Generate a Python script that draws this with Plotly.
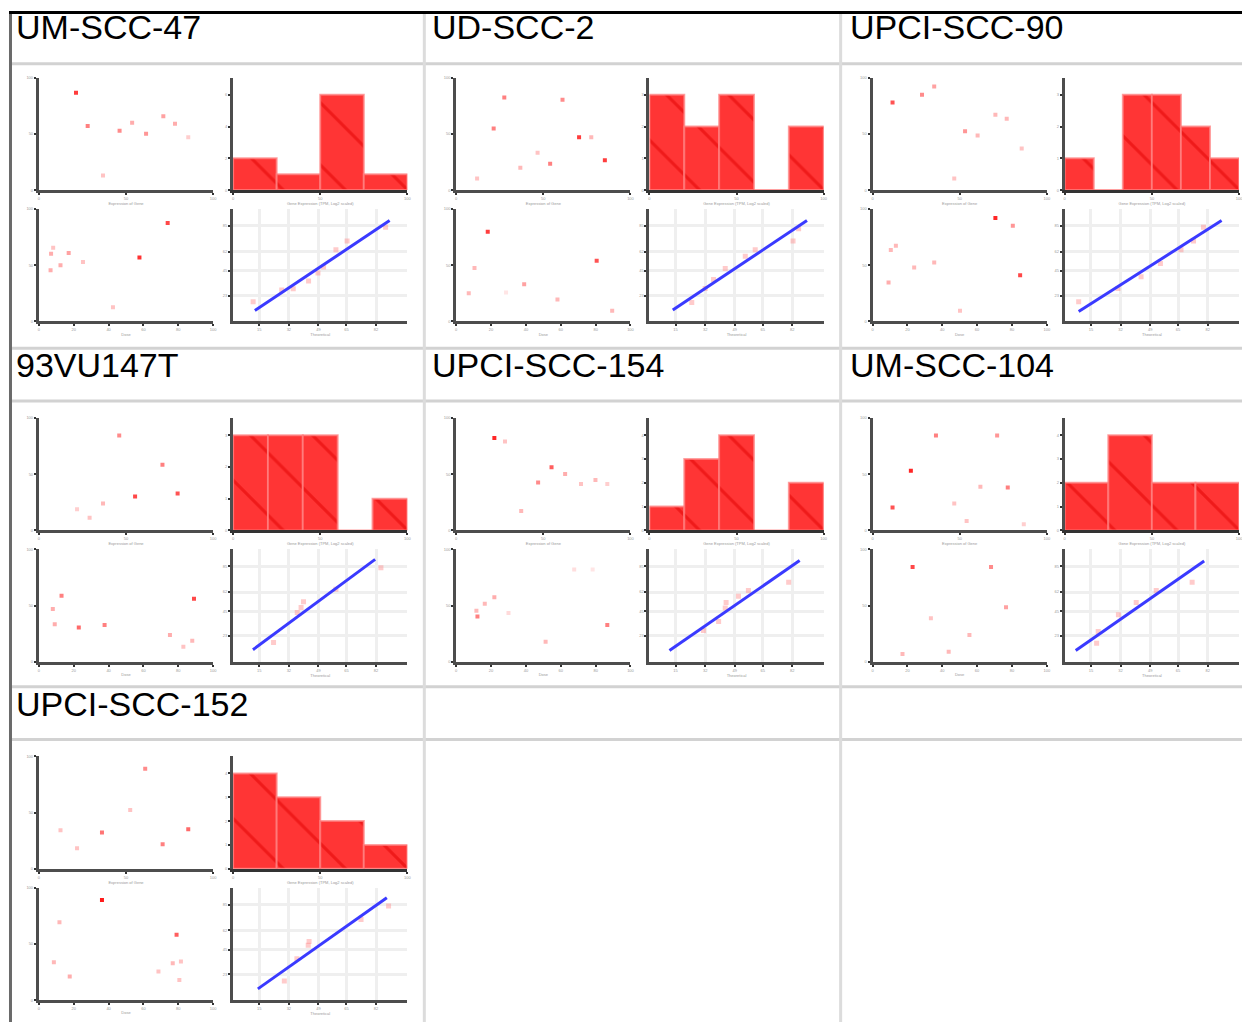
import plotly.graph_objects as go

# ---------------- data ----------------
panel_names = ["UM-SCC-47", "UD-SCC-2", "UPCI-SCC-90", "93VU147T",
               "UPCI-SCC-154", "UM-SCC-104", "UPCI-SCC-152"]

top_x = [[21.3, 28, 36.8, 46.3, 53.5, 61.5, 71.4, 78.1, 85.7],
         [27.6, 61, 21.5, 70.5, 77.5, 46.7, 53.9, 36.8, 85.3, 12],
         [11.5, 28.4, 35.4, 53.1, 60.3, 70.5, 77, 85.6, 46.9],
         [46.1, 70.9, 55.2, 79.6, 36.8, 21.9, 29.1],
         [21.9, 28, 54.7, 62.5, 47, 71.6, 79.9, 86.7, 37.3],
         [36.4, 71.5, 22, 11.5, 61.9, 77.6, 46.9, 54, 86.8],
         [61, 52.4, 12.4, 36.2, 21.9, 71, 85.7]]
top_y = [[86.7, 57.1, 13, 52.8, 60, 50.1, 65.8, 59.1, 47],
         [82.4, 80.3, 54.7, 47.1, 47.1, 33.2, 23.5, 20, 26.5, 10.3],
         [77.9, 84.7, 92.1, 52.4, 48.5, 67.1, 63.5, 37.1, 10.3],
         [84.5, 58.5, 30.1, 32.8, 23.9, 18.8, 11.3],
         [82.1, 79.1, 56.1, 50.1, 42.7, 41.2, 44.8, 41.2, 17.3],
         [84.5, 84.5, 53.1, 20.3, 38.8, 38.2, 23.9, 8.4, 5.4],
         [89, 52.2, 34.3, 32.2, 18.2, 21.8, 35.2]]
top_w = [[.8, .5, .2, .45, .3, .4, .35, .3, .15],
         [.5, .45, .5, .8, .25, .2, .5, .25, .8, .2],
         [.7, .45, .35, .4, .25, .25, .25, .2, .2],
         [.45, .5, .75, .7, .25, .15, .2],
         [.9, .2, .65, .3, .45, .2, .25, .15, .25],
         [.5, .4, .9, .7, .25, .5, .2, .2, .15],
         [.45, .2, .2, .55, .2, .5, .6]]

bot_x = [[7, 8.2, 17.1, 12.4, 6.7, 25.3, 42.5, 57.7, 73.9],
         [18.1, 10.5, 7.2, 39, 58.1, 80.6, 89.5, 28.6],
         [70.5, 80.5, 13.4, 10.5, 23.9, 35.4, 9.2, 84.7, 50.2],
         [13, 8, 9.1, 22.9, 37.7, 75.2, 82.9, 88, 89],
         [21.9, 16.4, 11.6, 12.2, 30, 51.3, 86.7, 67.7, 78.3],
         [23, 68, 33.5, 76.6, 55.6, 43.7, 17.2],
         [36.2, 11.8, 79, 8.6, 17.7, 68.6, 76.8, 81.5, 80.6]]
bot_y = [[60.3, 65.6, 60.9, 50, 45.6, 52.9, 12.6, 56.8, 87.6],
         [79.8, 47.5, 25.2, 33.2, 19.6, 54, 9.5, 25.8],
         [92, 85.2, 67.4, 63.5, 48.1, 52.5, 34.7, 41.2, 9.5],
         [58.8, 46.9, 33.4, 30.4, 32.8, 23.9, 13.4, 18.8, 56.1],
         [57.3, 51.6, 45.4, 40.3, 43.3, 17.9, 32.8, 82.1, 82.1],
         [84.2, 84.2, 38.8, 48.4, 23.9, 9, 6.9],
         [89, 69.3, 58.2, 33.7, 20.9, 25.4, 32.8, 34.3, 17.9]]
bot_w = [[.3, .2, .35, .3, .3, .2, .2, .85, .75],
         [.8, .25, .25, .35, .25, .7, .25, .05],
         [.9, .4, .25, .25, .25, .25, .3, .75, .2],
         [.5, .3, .3, .6, .5, .3, .2, .25, .75],
         [.3, .25, .25, .5, .1, .25, .5, .08, .05],
         [.75, .45, .2, .35, .25, .25, .25],
         [.95, .25, .65, .25, .3, .2, .25, .2, .2]]

hist_counts = [[2, 1, 6, 1],
               [3, 2, 3, 0, 2],
               [1, 0, 3, 3, 2, 1],
               [3, 3, 3, 0, 1],
               [1, 3, 4, 0, 2],
               [2, 4, 2, 2],
               [4, 3, 2, 1]]

qq_x = [[11.5, 27.9, 34.5, 43.3, 48.7, 51.9, 59, 65.4, 87.5],
        [24.3, 32, 36.8, 43.5, 55, 60.7, 82.4, 85.6],
        [8, 30.5, 43.8, 54.9, 66.7, 73.9, 79.6],
        [23.2, 36.8, 39, 40.4, 59, 84.8],
        [31, 39.7, 43.5, 44, 51.1, 56.8, 79.9],
        [18.3, 19.2, 30.8, 41, 52.5, 73.1],
        [29.4, 36.6, 43.1, 43.6, 73.4, 89.2]]
qq_y = [[17.6, 27.9, 29, 35.9, 43.2, 48.5, 63.8, 71.5, 83.8],
        [16.8, 29.4, 37.4, 47.1, 57.9, 63.8, 71.5, 82.4],
        [17.6, 29.4, 39.7, 51.5, 63.8, 71.5, 83.8],
        [17.2, 43.8, 48.2, 53.3, 64.5, 83.7],
        [27.8, 35.8, 47.8, 52.8, 58.2, 63.3, 70.7],
        [16.4, 26.9, 41.8, 52.8, 63.3, 70.7],
        [17, 36.7, 48.7, 52.2, 71.6, 83.6]]
qq_line = [[12.5, 9.7, 89.8, 89.7],
           [13.4, 10.3, 90.4, 89.7],
           [8, 8.8, 90, 89.7],
           [11.4, 10.7, 81.5, 91.1],
           [11.5, 10, 86.2, 90],
           [6.3, 10, 80, 89.6],
           [14.2, 10, 88.2, 91]]
qq_xticks = [15, 32, 49, 65, 82]
qq_yticks = [23, 45, 62, 85]

# ---------------- layout helpers ----------------
# The page body has an 8px default margin, so the figure is drawn 8px in
OFF = 8
W, H = 1250 - OFF, 1024 - OFF


def fx(px):
    return (px - OFF) / W


def fy(py):
    return 1 - (py - OFF) / H


col_left = [38, 457, 875]
col_right = [233, 651, 1068]
col_title_x = [13, 431, 850]
row_top = [75, 417, 757]
row_title_y = [24, 364, 704]
PW, PH = 175, 113

fig = go.Figure()
layout = {}
annotations = []
shapes = []

tickfont = dict(family="Liberation Sans", size=4, color="#9a9a9a")
axtitlefont = dict(family="Liberation Sans", size=4, color="#9a9a9a")
scatter_cs = [[0, "#fff0f0"], [1, "#ff1010"]]


def axis_common():
    return dict(showline=True, linecolor="#4d4d4d", linewidth=3, mirror=False,
                ticks="outside", ticklen=2, tickwidth=2, tickcolor="#333",
                tickfont=tickfont, showgrid=False, zeroline=False, fixedrange=True)


ax_i = 0
for p, name in enumerate(panel_names):
    r, c = divmod(p, 3)
    L, R = col_left[c], col_right[c]
    T = row_top[r]
    boxes = [(L, T), (R, T), (L, T + 132), (R, T + 132)]
    ids = []
    for (bx, by) in boxes:
        ax_i += 1
        ids.append(ax_i)
        xd = [fx(bx), fx(bx + PW)]
        yd = [fy(by + PH), fy(by)]
        xa = axis_common()
        ya = axis_common()
        xa.update(domain=xd, anchor="y%d" % ax_i)
        ya.update(domain=yd, anchor="x%d" % ax_i)
        layout["xaxis%d" % ax_i] = xa
        layout["yaxis%d" % ax_i] = ya

    # top-left scatter
    i = ids[0]
    fig.add_trace(go.Scatter(x=top_x[p], y=top_y[p], mode="markers",
                             marker=dict(symbol="square", size=4, color=top_w[p],
                                         colorscale=scatter_cs, cmin=0, cmax=1,
                                         line=dict(width=0)),
                             xaxis="x%d" % i, yaxis="y%d" % i, showlegend=False))
    layout["xaxis%d" % i].update(range=[0, 100], nticks=4,
                                 title=dict(text="Expression of Gene", font=axtitlefont, standoff=2))
    layout["yaxis%d" % i].update(range=[0, 100], nticks=4)

    # histogram
    i = ids[1]
    counts = hist_counts[p]
    nb = len(counts)
    bw = 100.0 / nb
    centers = [bw * (k + 0.5) for k in range(nb)]
    fig.add_trace(go.Bar(x=centers, y=counts, width=bw,
                         marker=dict(color="#ff3535",
                                     line=dict(color="rgba(255,130,130,0.75)", width=2),
                                     pattern=dict(shape="\\", size=44, solidity=0.07,
                                                  fgcolor="#e00000", fillmode="overlay")),
                         xaxis="x%d" % i, yaxis="y%d" % i, showlegend=False))
    layout["xaxis%d" % i].update(range=[0, 100], nticks=4, linecolor="#333",
                                 title=dict(text="Gene Expression (TPM, Log2 scaled)",
                                            font=axtitlefont, standoff=2))
    layout["yaxis%d" % i].update(range=[0, max(counts) * 1.18], dtick=1 if max(counts) <= 4 else 2)
    layout["barmode"] = "overlay"

    # bottom-left scatter
    i = ids[2]
    fig.add_trace(go.Scatter(x=bot_x[p], y=bot_y[p], mode="markers",
                             marker=dict(symbol="square", size=4, color=bot_w[p],
                                         colorscale=scatter_cs, cmin=0, cmax=1,
                                         line=dict(width=0)),
                             xaxis="x%d" % i, yaxis="y%d" % i, showlegend=False))
    layout["xaxis%d" % i].update(range=[0, 100], nticks=8,
                                 title=dict(text="Dose", font=axtitlefont, standoff=2))
    layout["yaxis%d" % i].update(range=[0, 100], nticks=4)

    # QQ plot
    i = ids[3]
    fig.add_trace(go.Scatter(x=qq_x[p], y=qq_y[p], mode="markers",
                             marker=dict(symbol="square", size=5, color="rgba(255,140,140,0.45)",
                                         line=dict(width=0)),
                             xaxis="x%d" % i, yaxis="y%d" % i, showlegend=False))
    ln = qq_line[p]
    fig.add_trace(go.Scatter(x=[ln[0], ln[2]], y=[ln[1], ln[3]], mode="lines",
                             line=dict(color="#3a3aff", width=3),
                             xaxis="x%d" % i, yaxis="y%d" % i, showlegend=False))
    layout["xaxis%d" % i].update(range=[0, 100], tickvals=qq_xticks, showgrid=True,
                                 gridcolor="#efefef", gridwidth=3,
                                 title=dict(text="Theoretical", font=axtitlefont, standoff=2))
    layout["yaxis%d" % i].update(range=[0, 100], tickvals=qq_yticks, showgrid=True,
                                 gridcolor="#efefef", gridwidth=3)

    # panel title
    annotations.append(dict(text=name, x=fx(col_title_x[c]), y=fy(row_title_y[r]),
                            xref="paper", yref="paper",
                            xanchor="left", yanchor="middle", showarrow=False,
                            font=dict(family="Liberation Sans", size=34, color="black")))

# ---------------- grid frame ----------------
sep = "#d2d2d2"
for yy in [61, 347, 400, 687, 740]:
    shapes.append(dict(type="line", xref="paper", yref="paper", x0=fx(9), x1=1,
                       y0=fy(yy), y1=fy(yy), line=dict(color=sep, width=3)))
for xx in [425, 843, 1248]:
    shapes.append(dict(type="line", xref="paper", yref="paper", x0=fx(xx), x1=fx(xx),
                       y0=fy(10), y1=0, line=dict(color="#dcdcdc", width=3)))
shapes.append(dict(type="line", xref="paper", yref="paper", x0=fx(9.5), x1=fx(9.5),
                   y0=fy(9), y1=0, line=dict(color="#6a6a6a", width=3)))
shapes.append(dict(type="line", xref="paper", yref="paper", x0=fx(8), x1=1,
                   y0=fy(9.5), y1=fy(9.5), line=dict(color="black", width=3)))

fig.update_layout(**layout)
fig.update_layout(width=W, height=H, margin=dict(l=0, r=0, t=0, b=0),
                  paper_bgcolor="white", plot_bgcolor="white",
                  annotations=annotations, shapes=shapes, showlegend=False,
                  font=dict(family="Liberation Sans"))

fig.write_html("out.html")
